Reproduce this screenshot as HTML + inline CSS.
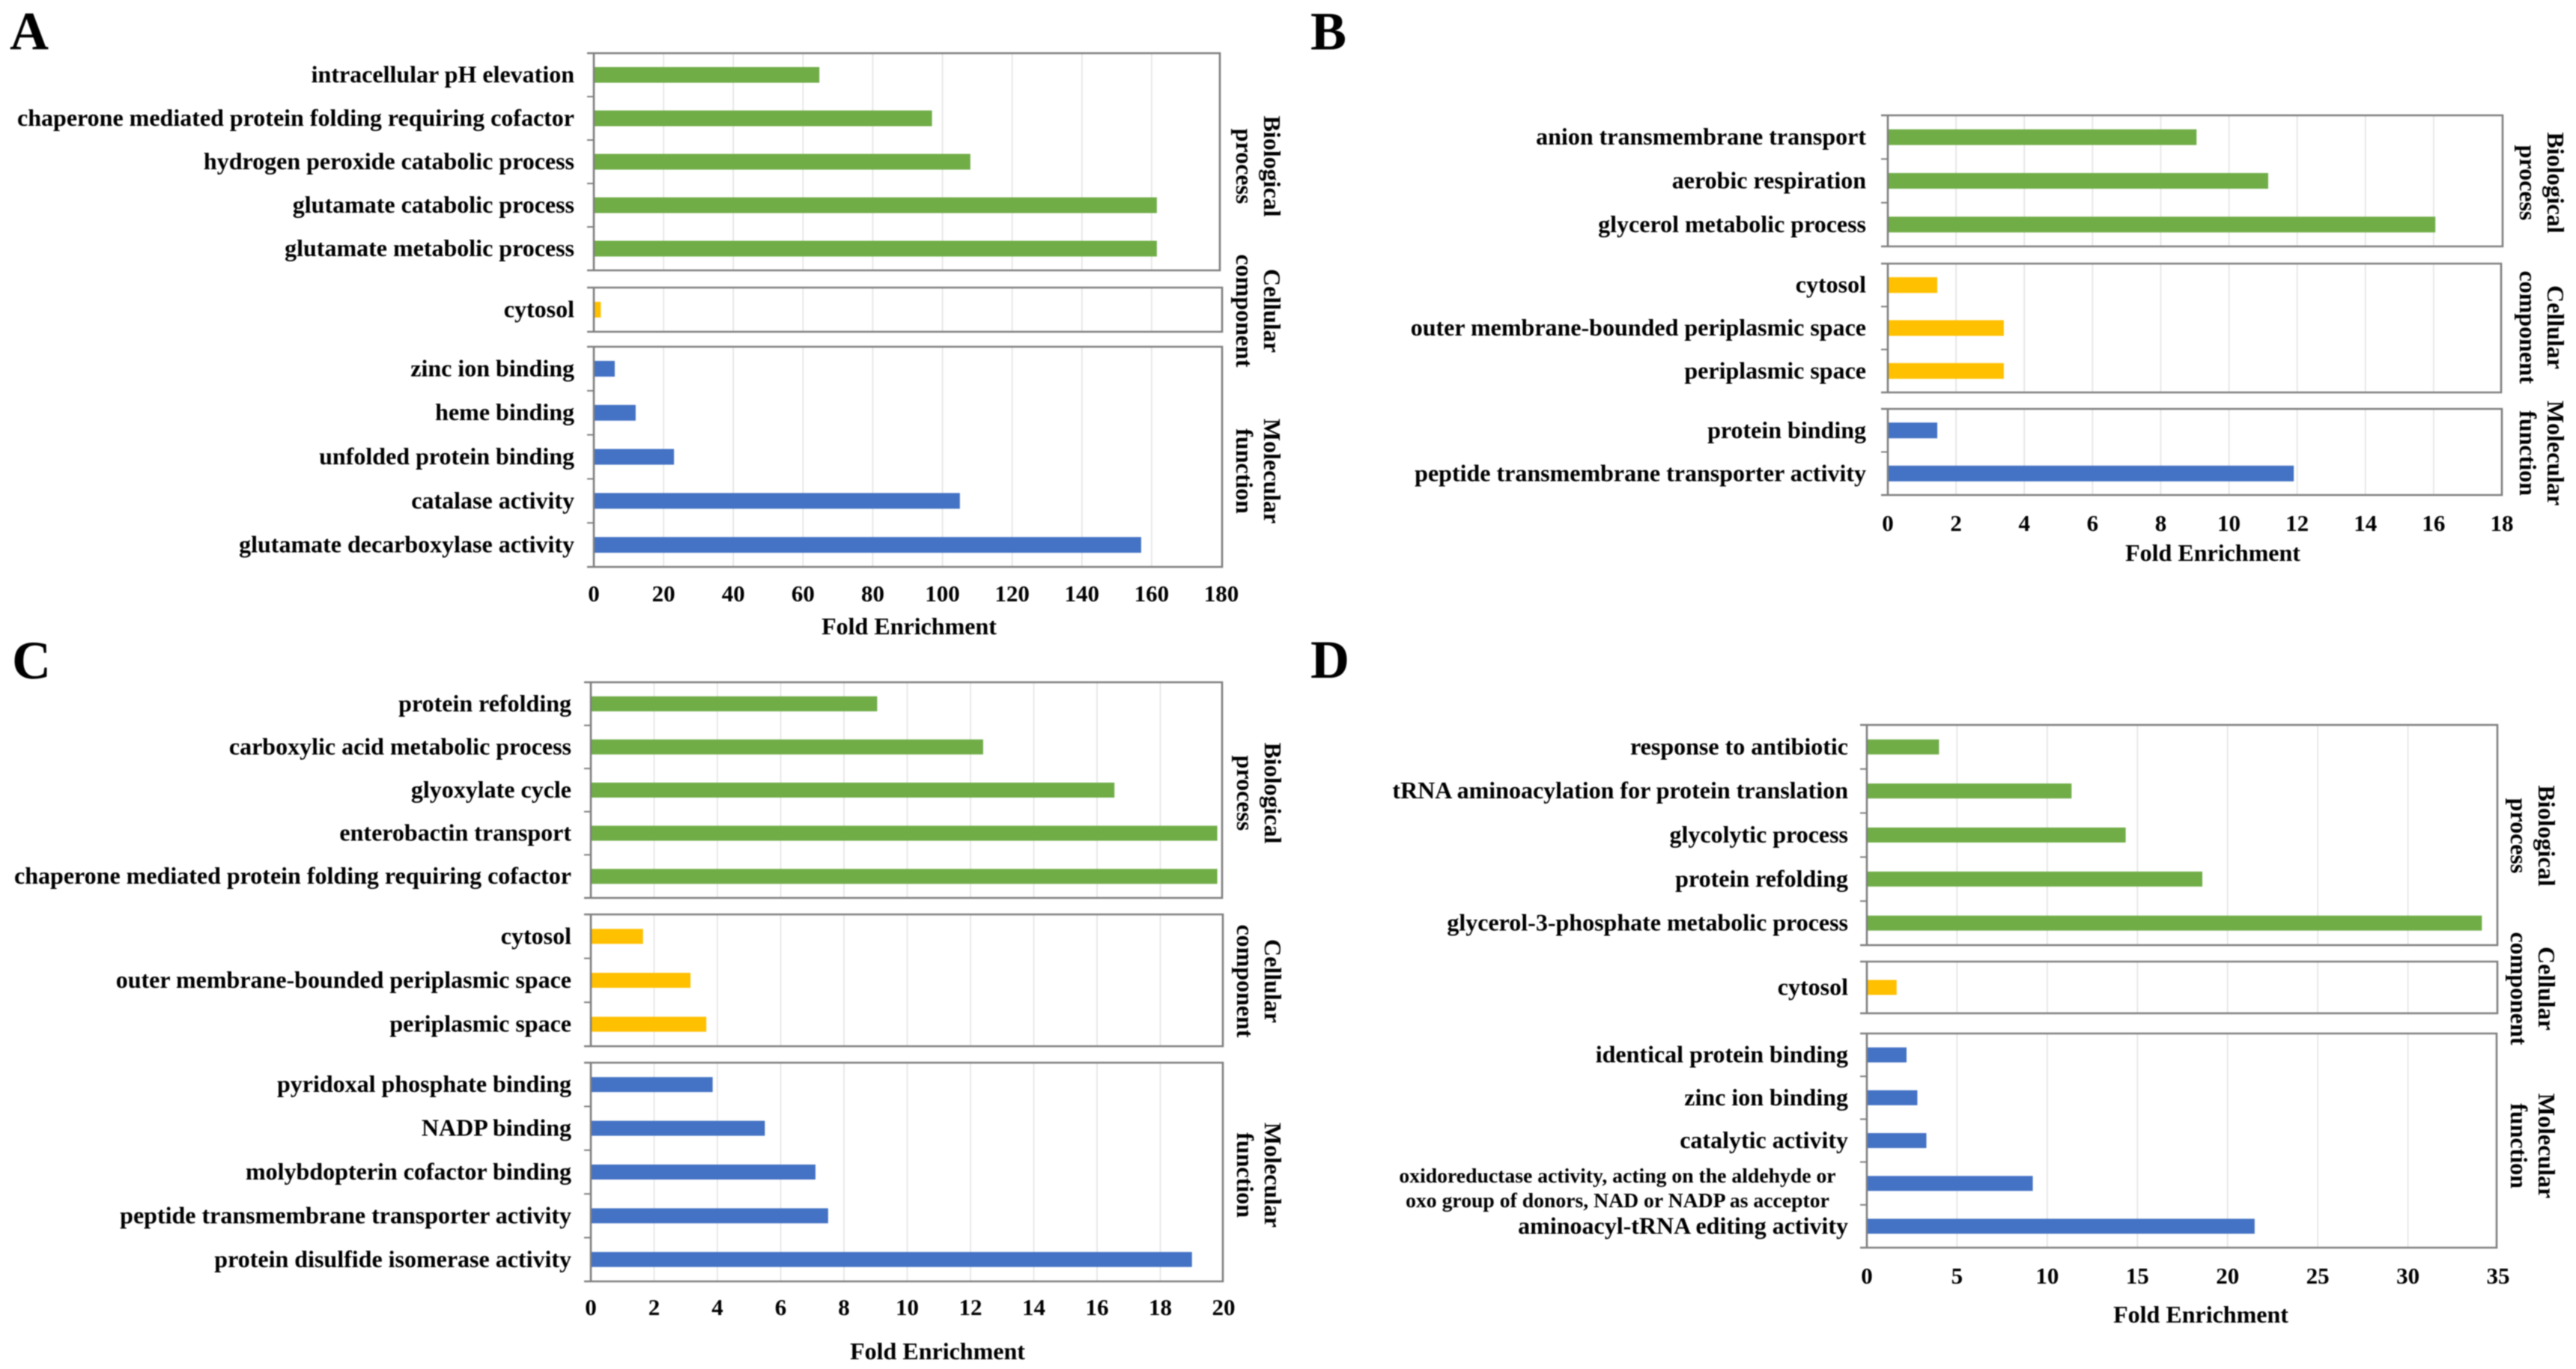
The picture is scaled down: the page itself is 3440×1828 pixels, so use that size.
<!DOCTYPE html>
<html lang="en">
<head>
<meta charset="utf-8">
<title>Fold enrichment panels</title>
<style>
html,body{margin:0;padding:0;background:#fff;width:3440px;height:1828px;overflow:hidden}
svg{display:block;filter:blur(0.7px)}
text{font-family:"Liberation Serif",serif;font-weight:bold;fill:#000}
</style>
</head>
<body>
<svg id="chart" xmlns="http://www.w3.org/2000/svg" width="3440" height="1828" viewBox="0 0 3440 1828"></svg>
<script>
// ---- Panel A data ----
const aBioTerms = ["intracellular pH elevation","chaperone mediated protein folding requiring cofactor","hydrogen peroxide catabolic process","glutamate catabolic process","glutamate metabolic process"];
const aBioValues = [64.7,97,108,161.5,161.5];
const aCellTerms = ["cytosol"];
const aCellValues = [2];
const aMolTerms = ["zinc ion binding","heme binding","unfolded protein binding","catalase activity","glutamate decarboxylase activity"];
const aMolValues = [6,12,23,105,157];
const aTicks = [0,20,40,60,80,100,120,140,160,180];
// ---- Panel B data ----
const bBioTerms = ["anion transmembrane transport","aerobic respiration","glycerol metabolic process"];
const bBioValues = [9.05,11.15,16.05];
const bCellTerms = ["cytosol","outer membrane-bounded periplasmic space","periplasmic space"];
const bCellValues = [1.45,3.4,3.4];
const bMolTerms = ["protein binding","peptide transmembrane transporter activity"];
const bMolValues = [1.45,11.9];
const bTicks = [0,2,4,6,8,10,12,14,16,18];
// ---- Panel C data ----
const cBioTerms = ["protein refolding","carboxylic acid metabolic process","glyoxylate cycle","enterobactin transport","chaperone mediated protein folding requiring cofactor"];
const cBioValues = [9.05,12.4,16.55,19.8,19.8];
const cCellTerms = ["cytosol","outer membrane-bounded periplasmic space","periplasmic space"];
const cCellValues = [1.65,3.15,3.65];
const cMolTerms = ["pyridoxal phosphate binding","NADP binding","molybdopterin cofactor binding","peptide transmembrane transporter activity","protein disulfide isomerase activity"];
const cMolValues = [3.85,5.5,7.1,7.5,19];
const cTicks = [0,2,4,6,8,10,12,14,16,18,20];
// ---- Panel D data ----
const dBioTerms = ["response to antibiotic","tRNA aminoacylation for protein translation","glycolytic process","protein refolding","glycerol-3-phosphate metabolic process"];
const dBioValues = [4,11.35,14.35,18.6,34.1];
const dCellTerms = ["cytosol"];
const dCellValues = [1.65];
const dMolTerms = ["identical protein binding","zinc ion binding","catalytic activity","oxidoreductase activity, acting on the aldehyde or|oxo group of donors, NAD or NADP as acceptor","aminoacyl-tRNA editing activity"];
const dMolValues = [2.2,2.8,3.3,9.2,21.5];
const dTicks = [0,5,10,15,20,25,30,35];

const colors = {bio:"#70ad47",cell:"#ffc000",mol:"#4472c4"};
const groupTitles = {bio:["Biological","process"],cell:["Cellular","component"],mol:["Molecular","function"]};

const panels = [
 {id:"a",letter:"A",lx:13,ly:66,x0:793,x1:1631,ticks:aTicks,labelRight:767,tickY:803,titleX:1214,titleY:847,sideX:1688,barH:21,
  groups:[
   {key:"bio",terms:aBioTerms,values:aBioValues,top:71,bottom:361,right:1629,sideY:222},
   {key:"cell",terms:aCellTerms,values:aCellValues,top:384,bottom:443,right:1632,sideY:415},
   {key:"mol",terms:aMolTerms,values:aMolValues,top:463,bottom:757,right:1632,sideY:629}]},
 {id:"b",letter:"B",lx:1750,ly:66,x0:2521,x1:3341,ticks:bTicks,labelRight:2492,tickY:709,titleX:2955,titleY:749,sideX:3402,barH:21,
  groups:[
   {key:"bio",terms:bBioTerms,values:bBioValues,top:154,bottom:329,right:3342,sideY:244},
   {key:"cell",terms:bCellTerms,values:bCellValues,top:352,bottom:524,right:3340,sideY:437},
   {key:"mol",terms:bMolTerms,values:bMolValues,top:546,bottom:661,right:3341,sideY:605}]},
 {id:"c",letter:"C",lx:16,ly:906,x0:789,x1:1634,ticks:cTicks,labelRight:763,tickY:1756,titleX:1252,titleY:1815,sideX:1689,barH:20,
  groups:[
   {key:"bio",terms:cBioTerms,values:cBioValues,top:911,bottom:1199,right:1632,sideY:1059},
   {key:"cell",terms:cCellTerms,values:cCellValues,top:1221,bottom:1397,right:1633,sideY:1310},
   {key:"mol",terms:cMolTerms,values:cMolValues,top:1419,bottom:1711,right:1633,sideY:1569}]},
 {id:"d",letter:"D",lx:1750,ly:905,x0:2493,x1:3336,ticks:dTicks,labelRight:2468,tickY:1714,titleX:2939,titleY:1766,sideX:3390,barH:20,
  groups:[
   {key:"bio",terms:dBioTerms,values:dBioValues,top:968,bottom:1262,right:3335,sideY:1116},
   {key:"cell",terms:dCellTerms,values:dCellValues,top:1284,bottom:1353,right:3335,sideY:1320},
   {key:"mol",terms:dMolTerms,values:dMolValues,top:1380,bottom:1666,right:3334,sideY:1530}]}
];

const NS = "http://www.w3.org/2000/svg";
const root = document.getElementById("chart");
function add(parent, tag, attrs, txt){
  const el = document.createElementNS(NS, tag);
  for (const k in attrs) el.setAttribute(k, attrs[k]);
  if (txt !== undefined) el.textContent = txt;
  parent.appendChild(el);
  return el;
}
function xScale(p){
  const maxTick = p.ticks[p.ticks.length - 1];
  return v => p.x0 + (v / maxTick) * (p.x1 - p.x0);
}
function bandScale(g){
  const band = (g.bottom - g.top) / g.terms.length;
  return i => g.top + band * (i + 0.5);
}

panels.forEach(p => {
  const x = xScale(p);
  const pg = add(root, "g", {});
  
  

  const letter = add(pg, "text", {x:p.lx, y:p.ly, "font-size":72}, p.letter);
  
  

  p.groups.forEach(g => {
    const y = bandScale(g);
    const gg = add(pg, "g", {});
    
    

    p.ticks.forEach((t, i) => {
      if (i === 0 || i === p.ticks.length - 1) return;
      const gl = add(gg, "line", {x1:x(t), x2:x(t), y1:g.top, y2:g.bottom, stroke:"#e3e3e3", "stroke-width":1.6});
      
      
    });

    g.values.forEach((v, i) => {
      const cy = y(i);
      const bar = add(gg, "rect", {x:x(0), y:cy - p.barH / 2, width:Math.max(0, x(v) - x(0)), height:p.barH, fill:colors[g.key]});
      
      

      const parts = g.terms[i].split("|");
      if (parts.length > 1) {
        parts.forEach((line, j) => {
          const lt = add(gg, "text", {x:p.labelRight - 308, y:cy - 1 + j * 33, "font-size":27.7, "text-anchor":"middle"}, line);
          
          
        });
      } else {
        const lt = add(gg, "text", {x:p.labelRight, y:cy + 10, "font-size":32, "text-anchor":"end"}, parts[0]);
        
        
      }
    });

    const box = add(gg, "path", {
      d:"M" + (p.x0 - 9) + " " + g.top + "H" + g.right + "V" + g.bottom + "H" + (p.x0 - 9) + "M" + p.x0 + " " + g.top + "V" + g.bottom,
      fill:"none", stroke:"#7f7f7f", "stroke-width":2.6});
    
    

    const band = (g.bottom - g.top) / g.terms.length;
    for (let i = 1; i < g.terms.length; i++) {
      const yy = g.top + band * i;
      const tk = add(gg, "line", {x1:p.x0 - 9, x2:p.x0, y1:yy, y2:yy, stroke:"#7f7f7f", "stroke-width":2});
      
      
    }

    const lines = groupTitles[g.key];
    lines.forEach((line, j) => {
      const sx = p.sideX - j * 37;
      const st = add(gg, "text", {x:0, y:0, "font-size":32, "text-anchor":"middle", transform:"translate(" + sx + " " + g.sideY + ") rotate(90)"}, line);
      
      
    });
  });

  p.ticks.forEach(t => {
    const tl = add(pg, "text", {x:x(t), y:p.tickY, "font-size":31, "text-anchor":"middle"}, String(t));
    
    
  });

  const title = add(pg, "text", {x:p.titleX, y:p.titleY, "font-size":32, "text-anchor":"middle"}, "Fold Enrichment");
  
  
});
</script>
</body>
</html>
